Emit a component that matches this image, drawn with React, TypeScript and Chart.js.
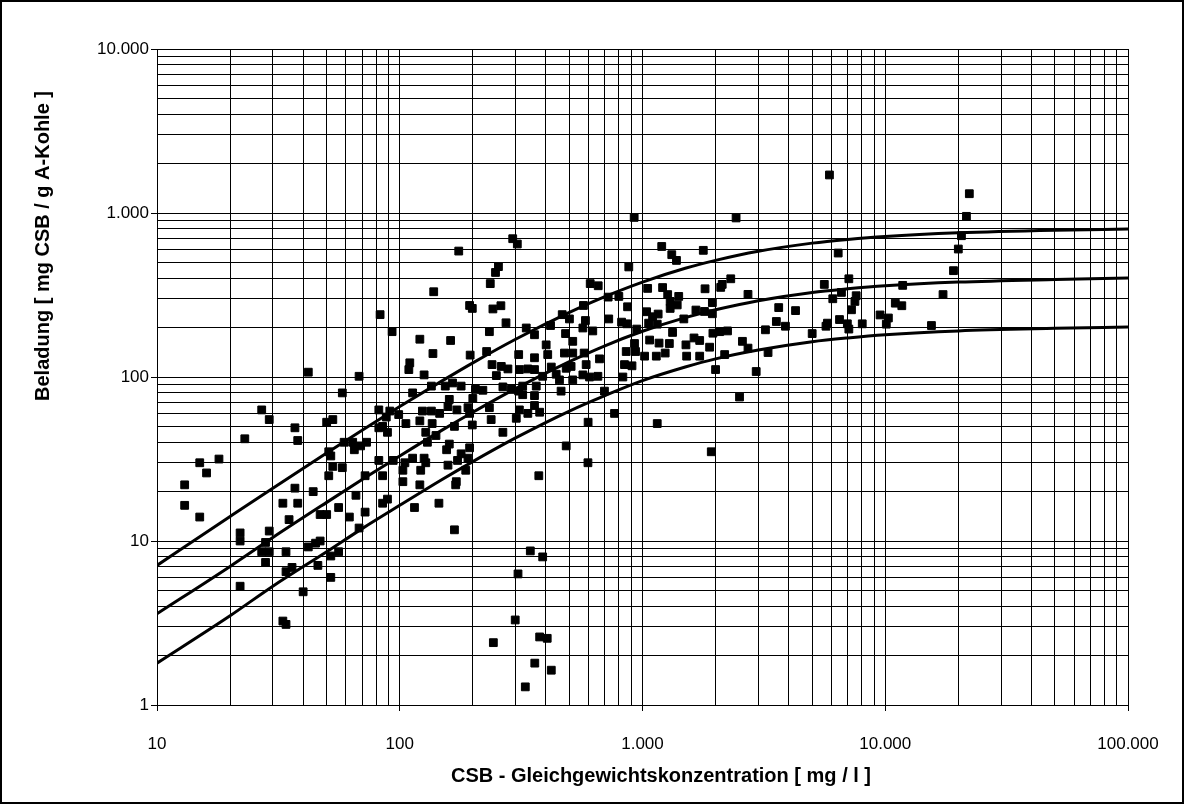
import React, { useEffect, useRef } from 'react';
import { Chart, registerables } from 'chart.js';

Chart.register(...registerables);

// Axis tick labels and grid values
const xTickValues = [10, 100, 1000, 10000, 100000];
const xTickLabels = ['10', '100', '1.000', '10.000', '100.000'];
const yTickValues = [1, 10, 100, 1000, 10000];
const yTickLabels = ['1', '10', '100', '1.000', '10.000'];
const xGridValues = [
  10, 20, 30, 40, 50, 60, 70, 80, 90,
  100, 200, 300, 400, 500, 600, 700, 800, 900,
  1000, 2000, 3000, 4000, 5000, 6000, 7000, 8000, 9000,
  10000, 20000, 30000, 40000, 50000, 60000, 70000, 80000, 90000,
  100000,
];
const yGridValues = [
  1, 2, 3, 4, 5, 6, 7, 8, 9,
  10, 20, 30, 40, 50, 60, 70, 80, 90,
  100, 200, 300, 400, 500, 600, 700, 800, 900,
  1000, 2000, 3000, 4000, 5000, 6000, 7000, 8000, 9000,
  10000,
];

const xTitle = 'CSB - Gleichgewichtskonzentration [ mg / l ]';
const yTitle = 'Beladung [ mg CSB / g A-Kohle ]';

// Isotherm curves
const curveX = [10, 20, 30, 50, 70, 100, 150, 200, 300, 500, 700, 1000, 1500, 2000, 3000, 5000, 7000, 10000, 20000, 50000, 100000];
const curveHigh = [7.1, 14.1, 21, 34.4, 47.4, 66, 95, 122, 170, 248, 309, 379, 460, 514, 584, 655, 690, 720, 758, 786, 798];
const curveMid = [3.6, 7.0, 10.5, 17.2, 23.7, 33, 47.6, 61, 85, 124, 155, 190, 230, 257, 292, 328, 345, 360, 379, 393, 401];
const curveLow = [1.8, 3.5, 5.3, 8.6, 11.9, 16.5, 23.8, 30.5, 42.5, 62, 77, 95, 115, 129, 146, 164, 173, 181, 191, 198, 202];

// Measured points: equilibrium concentration (x) and loading (y)
const pointsX = [
  292, 305, 175, 255, 248, 236, 138, 194, 199, 242, 261, 83, 274, 93, 121, 162, 234, 332, 359, 418, 467, 500, 482,
  924, 2430, 1200, 1320, 1380, 1780, 878, 609, 657, 1050, 1210, 1270, 1410, 1300, 1390, 1300, 1810, 2130, 2310, 2100,
  2720, 3640, 571, 722, 799, 868, 1940, 1660, 1800, 1940, 1040, 1160, 1100, 1480, 582, 624, 568, 726, 820, 862,
  1060, 1150, 947, 1330, 1070, 1720, 1630, 1950, 2080, 2240, 2580, 3210, 3560, 3880,
  5890, 22200, 21600, 20600, 20000, 6400, 19100, 7080, 5610, 11800, 6600, 7590, 7500, 6080, 17300, 4270, 7260, 11000,
  11700, 9520, 10300, 10100, 6480, 6980, 7080, 5780, 5700, 8040, 15500, 5000,
  42, 68, 58, 27, 29, 37, 50, 53, 23, 38, 59, 64, 69, 65, 73, 51, 52, 18, 15, 16, 53, 58, 51, 72, 13, 37, 44, 66, 13, 33,
  38, 56, 47, 50, 15, 35, 62, 72,
  137, 195, 228, 309, 359, 401, 407, 477, 516, 516, 110, 109, 240, 262, 279, 250, 311, 337, 359, 421,
  441, 485, 508, 126, 135, 154, 165, 179, 113, 205, 220, 200, 266, 288, 309, 321, 365, 388, 455, 516,
  462, 321, 359, 359, 160, 82, 91, 88, 99, 124, 135, 146, 158, 172, 191, 194, 234, 238, 311, 337,
  377, 302, 121, 136, 106, 82, 89, 85, 168, 199, 266, 128, 141, 130, 160, 156, 194, 179, 191, 173,
  82, 94, 105, 113, 126, 128, 158, 187, 122, 103, 85, 103, 485, 374, 121, 171, 170, 89, 85, 115, 145,
  575, 665, 586, 857, 927, 936, 843, 905, 1020, 1140, 1240, 1170, 1290, 1510, 1520, 1720, 1890, 2180, 2720, 3290,
  2000, 2940, 2510, 767, 1150, 597, 1920, 596, 830, 697, 568, 605, 655,
  22, 22, 29, 28, 27, 29, 28, 34, 36, 34, 42, 45, 47, 46, 52, 56, 52, 40, 22, 33, 34, 68,
  168, 345, 388, 307, 299, 243, 377, 405, 360, 421, 329,
];
const pointsY = [
  697, 647, 586, 471, 434, 371, 331, 273, 262, 260, 272, 240, 214, 189, 170, 167, 189, 199, 181, 206, 240, 226, 184,
  940, 933, 625, 557, 514, 592, 469, 371, 360, 347, 351, 318, 310, 289, 275, 262, 345, 367, 397, 352,
  319, 265, 273, 307, 310, 268, 284, 256, 251, 243, 250, 242, 233, 226, 221, 191, 199, 226, 216, 211,
  213, 210, 196, 187, 168, 167, 173, 185, 189, 191, 165, 194, 218, 204,
  1706, 1311, 954, 727, 603, 570, 445, 397, 367, 362, 328, 313, 289, 300, 318, 254, 257, 282,
  272, 239, 229, 210, 224, 211, 196, 213, 204, 211, 206, 184,
  107, 101, 80, 63, 55, 49, 53, 55, 42, 41, 40, 40, 38, 36, 40, 35, 33, 31.6, 30, 26, 28.5, 28, 25, 25, 22, 21, 20, 19, 16.5, 17,
  17, 16, 14.5, 14.5, 14, 13.5, 14, 15,
  139, 136, 143, 137, 131, 157, 137, 140, 140, 165, 122, 111, 119, 116, 112, 102, 111, 112, 111, 115,
  104, 113, 116, 103, 88, 88, 92, 88, 80, 84, 83, 74, 87, 84, 82, 88, 88, 101, 96, 96,
  82, 78, 77, 67, 73, 63, 62, 57, 59, 62, 62, 60, 66, 63, 65, 60, 65, 55, 63, 60,
  61, 56, 54, 52, 52, 49, 46, 50, 50, 51, 46, 46, 44, 40, 39, 36, 37, 34, 32, 31,
  31, 31, 30, 32, 32, 30, 29, 27, 27, 27, 25, 23, 38, 25, 22, 23, 22, 18, 17, 16, 17,
  140, 129, 119, 143, 160, 143, 119, 117, 134, 134, 140, 161, 160, 157, 134, 134, 152, 137, 150, 141,
  111, 108, 75.5, 60, 52, 53, 35, 30, 100, 82, 103, 100, 101,
  11.2, 10, 11.5, 9.8, 8.6, 8.6, 7.4, 8.6, 6.9, 6.5, 9.2, 9.7, 10, 7.1, 8.1, 8.6, 6.0, 4.9, 5.3, 3.25, 3.1, 12,
  11.7, 8.7, 8.0, 6.3, 3.3, 2.4, 2.6, 2.55, 1.8, 1.63, 1.29,
];

const FONT = '"Liberation Sans", Arial, sans-serif';

const framePlugin = {
  id: 'frameAndTitles',
  beforeDraw(chart: any) {
    const ctx = chart.ctx;
    ctx.save();
    ctx.fillStyle = '#ffffff';
    ctx.fillRect(0, 0, chart.width, chart.height);
    ctx.restore();
  },
  afterDraw(chart: any) {
    const ctx = chart.ctx;
    ctx.save();
    ctx.strokeStyle = '#000';
    ctx.lineWidth = 2;
    ctx.strokeRect(1, 1, chart.width - 2, chart.height - 2);
    ctx.fillStyle = '#000';
    ctx.font = 'bold 20px ' + FONT;
    ctx.textAlign = 'center';
    ctx.textBaseline = 'middle';
    ctx.fillText(xTitle, 661, 776);
    ctx.translate(43, 246);
    ctx.rotate(-Math.PI / 2);
    ctx.fillText(yTitle, 0, 0);
    ctx.restore();
  },
};

export default function App() {
  const canvasRef = useRef<HTMLCanvasElement | null>(null);

  useEffect(() => {
    if (!canvasRef.current) return;
    const scatterData = pointsX.map((x, i) => ({ x, y: pointsY[i] }));
    const mk = (vals: number[]) => curveX.map((x, i) => ({ x, y: vals[i] }));
    const lineDs = (vals: number[]) => ({
      type: 'scatter' as const,
      data: mk(vals),
      showLine: true,
      borderColor: '#000',
      borderWidth: 3,
      pointRadius: 0,
      cubicInterpolationMode: 'monotone' as const,
      fill: false,
      order: 1,
    });
    const majorTick = (vals: number[], labels: string[]) => (v: any) => {
      const i = vals.indexOf(Number(v));
      return i >= 0 ? labels[i] : '';
    };
    const chart = new Chart(canvasRef.current, {
      type: 'scatter',
      data: {
        datasets: [
          {
            data: scatterData,
            pointStyle: 'rect',
            pointRadius: 5.5,
            backgroundColor: '#000',
            borderColor: '#000',
            borderWidth: 1,
            order: 2,
          } as any,
          lineDs(curveHigh) as any,
          lineDs(curveMid) as any,
          lineDs(curveLow) as any,
        ],
      },
      options: {
        animation: false,
        responsive: false,
        events: [],
        layout: { padding: { top: 49, right: 56, bottom: 0, left: 0 } },
        plugins: { legend: { display: false }, tooltip: { enabled: false } },
        scales: {
          x: {
            type: 'logarithmic',
            min: 10,
            max: 100000,
            afterBuildTicks: (s: any) => {
              s.ticks = xGridValues.map((v) => ({ value: v }));
            },
            afterFit: (s: any) => {
              s.height = 99;
            },
            ticks: {
              autoSkip: false,
              maxRotation: 0,
              minRotation: 0,
              padding: 23,
              color: '#000',
              font: { family: FONT, size: 17 },
              callback: majorTick(xTickValues, xTickLabels),
            },
            grid: {
              color: '#000',
              lineWidth: 1,
              drawTicks: true,
              tickLength: 6,
              tickColor: (c: any) =>
                c.tick && xTickValues.includes(c.tick.value) ? '#000' : 'rgba(0,0,0,0)',
            },
            border: { color: '#000', width: 1 },
          },
          y: {
            type: 'logarithmic',
            min: 1,
            max: 10000,
            afterBuildTicks: (s: any) => {
              s.ticks = yGridValues.map((v) => ({ value: v }));
            },
            afterFit: (s: any) => {
              s.width = 157;
            },
            ticks: {
              autoSkip: false,
              padding: 2,
              color: '#000',
              font: { family: FONT, size: 17 },
              callback: majorTick(yTickValues, yTickLabels),
            },
            grid: {
              color: '#000',
              lineWidth: 1,
              drawTicks: true,
              tickLength: 6,
              tickColor: (c: any) =>
                c.tick && yTickValues.includes(c.tick.value) ? '#000' : 'rgba(0,0,0,0)',
            },
            border: { color: '#000', width: 1 },
          },
        },
      },
      plugins: [framePlugin],
    });
    return () => chart.destroy();
  }, []);

  return (
    <div style={{ position: 'absolute', left: 0, top: 0, width: 1184, height: 804 }}>
      <canvas ref={canvasRef} width={1184} height={804} style={{ display: 'block' }} />
    </div>
  );
}
